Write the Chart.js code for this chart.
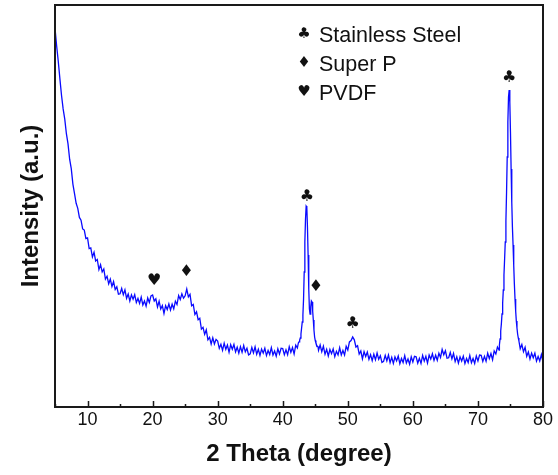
<!DOCTYPE html>
<html>
<head>
<meta charset="utf-8">
<script src="https://cdn.jsdelivr.net/npm/chart.js@4.4.1/dist/chart.umd.min.js"></script>
<style>
  html, body { margin: 0; padding: 0; background: #ffffff; }
  #wrap { width: 558px; height: 475px; }
</style>
</head>
<body>
<div id="wrap"><canvas id="c" width="558" height="475"></canvas></div>
<script>
// ---- Data (intensity in arbitrary units) ----
// Segment 1: 5.00° – 42.25°, step 0.25°
const seg1Start = 5.0, seg1Step = 0.25;
const seg1Intensity = [
  3790, 3612, 3458, 3284, 3118, 2981, 2878, 2733, 2631, 2478, 2383, 2229, 2134, 2037, 1986, 1896, 1868, 1781, 1769, 1684,
  1690, 1585, 1592, 1500, 1548, 1460, 1475, 1375, 1423, 1350, 1380, 1280, 1308, 1232, 1278, 1205, 1255, 1175, 1202, 1128,
  1132, 1185, 1122, 1172, 1087, 1130, 1060, 1122, 1078, 1123, 1044, 1085, 1035, 1099, 1020, 1060, 1008, 1090, 1045, 1111,
  1120, 1060, 1082, 1000, 1058, 980, 1015, 935, 1013, 975, 1030, 970, 1028, 982, 1058, 1025, 1115, 1075, 1132, 1088,
  1112, 1180, 1102, 1127, 1012, 1025, 925, 952, 873, 888, 779, 797, 727, 771, 672, 697, 630, 692, 630, 676,
  660, 587, 627, 567, 638, 577, 620, 547, 623, 577, 625, 552, 598, 539, 603, 547, 615, 552, 587, 520,
  532, 595, 542, 602, 527, 577, 515, 579, 538, 588, 514, 565, 525, 594, 520, 560, 508, 582, 530, 588,
  585, 522, 572, 522, 603, 547, 595, 530, 618, 590
];
// Stainless steel (111) peak with Super P shoulder: fine sampling
const peak1Theta = [42.4, 42.5, 42.6, 42.7, 42.8, 42.9, 43.0, 43.1, 43.2, 43.3, 43.4, 43.5, 43.6, 43.7, 43.8, 43.9,
  44.0, 44.1, 44.2, 44.3, 44.4, 44.5, 44.6, 44.7, 44.8, 44.9, 45.0, 45.1, 45.2, 45.3, 45.4];
const peak1Intensity = [640, 652, 668, 690, 730, 790, 850, 920, 1080, 1350, 1650, 1880, 2010, 2000, 1800, 1520,
  1180, 980, 930, 1000, 1060, 1050, 960, 870, 770, 700, 665, 640, 622, 606, 610];
// Segment 2: 45.50° – 73.25°, step 0.25°
const seg2Start = 45.5, seg2Step = 0.25;
const seg2Intensity = [
  567, 620, 552, 607, 527, 577, 510, 575, 533, 581, 504, 557, 520, 592, 520, 565, 520, 607, 570, 651,
  665, 700, 672, 600, 613, 530, 560, 480, 553, 505, 550, 477, 523, 464, 528, 472, 540, 477, 512, 445,
  457, 517, 462, 520, 444, 496, 435, 501, 461, 510, 434, 485, 445, 514, 440, 480, 428, 502, 450, 506,
  502, 438, 487, 436, 516, 460, 507, 439, 519, 479, 532, 466, 518, 467, 538, 495, 575, 522, 562, 488,
  492, 545, 482, 535, 454, 502, 438, 502, 460, 508, 434, 485, 445, 516, 443, 485, 435, 511, 461, 520,
  517, 455, 506, 457, 538, 485, 535, 473, 560, 530, 600, 570
];
// Stainless steel (220) peak: fine sampling
const peak2Theta = [73.3, 73.4, 73.5, 73.6, 73.7, 73.8, 73.9, 74.0, 74.1, 74.2, 74.3, 74.4, 74.5, 74.6, 74.7, 74.8,
  74.9, 75.0, 75.1, 75.2, 75.3, 75.4, 75.5, 75.6, 75.7, 75.8, 75.9, 76.0, 76.1, 76.2, 76.3];
const peak2Intensity = [620, 680, 760, 830, 930, 1040, 1170, 1320, 1480, 1650, 1860, 2150, 2500, 2850, 3100, 3170,
  3050, 2750, 2380, 2050, 1800, 1620, 1420, 1230, 1080, 960, 860, 790, 730, 690, 660];
// Segment 3: 76.50° – 80.00°, step 0.25°
const seg3Start = 76.5, seg3Step = 0.25;
const seg3Intensity = [582, 625, 552, 597, 507, 550, 480, 539, 493, 538, 459, 505, 460, 524, 448];

// Axis settings
const xMin = 5, xMax = 80;
const xTickLabels = [10, 20, 30, 40, 50, 60, 70, 80];
const xMinorTicks = [5, 15, 25, 35, 45, 55, 65, 75];
const yMin = 0, yMax = 4020;

// Peak markers: [2θ, intensity, symbol]
const markerTheta = [20.25, 25.2, 43.7, 45.1, 50.75, 74.8];
const markerIntensity = [1263, 1347, 2097, 1203, 830, 3287];
const markerSymbol = ['\u2665', '\u2666', '\u2663', '\u2666', '\u2663', '\u2663'];

// Legend
const legendSymbols = ['\u2663', '\u2666', '\u2665'];
const legendLabels = ['Stainless Steel', 'Super P', 'PVDF'];

// ---- Build points ----
function gridPoints(start, step, vals) {
  return vals.map((v, i) => ({ x: +(start + i * step).toFixed(2), y: v }));
}
function pairPoints(th, vals) {
  return th.map((t, i) => ({ x: t, y: vals[i] }));
}
const points = [].concat(
  gridPoints(seg1Start, seg1Step, seg1Intensity),
  pairPoints(peak1Theta, peak1Intensity),
  gridPoints(seg2Start, seg2Step, seg2Intensity),
  pairPoints(peak2Theta, peak2Intensity),
  gridPoints(seg3Start, seg3Step, seg3Intensity)
);

const framePlugin = {
  id: 'frame',
  afterDatasetsDraw(chart) {
    const { ctx, chartArea: a, scales } = chart;
    const xs = scales.x, ys = scales.y;
    ctx.save();
    // inward ticks on bottom axis
    ctx.strokeStyle = '#1a1a1a';
    ctx.lineWidth = 1.5;
    ctx.beginPath();
    xTickLabels.forEach(v => {
      const px = Math.round(xs.getPixelForValue(v)) + 0.5;
      ctx.moveTo(px, a.bottom); ctx.lineTo(px, a.bottom - 6);
    });
    xMinorTicks.forEach(v => {
      const px = Math.round(xs.getPixelForValue(v)) + 0.5;
      ctx.moveTo(px, a.bottom); ctx.lineTo(px, a.bottom - 3);
    });
    ctx.stroke();
    // frame
    ctx.lineWidth = 2;
    ctx.strokeRect(a.left, a.top, a.right - a.left, a.bottom - a.top);
    // peak markers
    ctx.fillStyle = '#111111';
    ctx.font = '16px "DejaVu Sans"';
    ctx.textAlign = 'center';
    ctx.textBaseline = 'middle';
    markerTheta.forEach((t, i) => {
      ctx.fillText(markerSymbol[i], xs.getPixelForValue(t), ys.getPixelForValue(markerIntensity[i]));
    });
    // legend
    const legY = [34, 63.5, 92];
    legendLabels.forEach((lab, i) => {
      ctx.font = '15px "DejaVu Sans"';
      ctx.textAlign = 'center';
      ctx.textBaseline = 'middle';
      ctx.fillText(legendSymbols[i], 304, legY[i]);
      ctx.font = '21.5px "Liberation Sans", Arial, sans-serif';
      ctx.textAlign = 'left';
      ctx.textBaseline = 'alphabetic';
      ctx.fillText(lab, 319, legY[i] + 7.7);
    });
    ctx.restore();
  }
};

new Chart(document.getElementById('c'), {
  type: 'line',
  data: {
    datasets: [{
      data: points,
      borderColor: 'rgb(10,10,255)',
      borderWidth: 1.3,
      pointRadius: 0,
      tension: 0,
      fill: false
    }]
  },
  options: {
    responsive: false,
    animation: false,
    devicePixelRatio: 1,
    layout: { padding: { left: 0, right: 15, top: 5, bottom: 0 } },
    plugins: { legend: { display: false }, tooltip: { enabled: false } },
    scales: {
      x: {
        type: 'linear',
        min: xMin, max: xMax,
        afterBuildTicks(scale) {
          scale.ticks = xTickLabels.map(v => ({ value: v }));
        },
        afterFit(scale) { scale.height = 68; },
        grid: { display: false, drawTicks: false },
        border: { display: false },
        ticks: {
          autoSkip: false, maxRotation: 0, padding: 2,
          color: '#111111',
          font: { family: '"Liberation Sans", Arial, sans-serif', size: 18 }
        },
        title: {
          display: true,
          text: '2 Theta (degree)',
          color: '#111111',
          font: { family: '"Liberation Sans", Arial, sans-serif', size: 24, weight: 'bold' },
          padding: { top: 0, bottom: 6 }
        }
      },
      y: {
        type: 'linear',
        min: yMin, max: yMax,
        afterFit(scale) { scale.width = 55; },
        grid: { display: false, drawTicks: false },
        border: { display: false },
        ticks: { display: false },
        title: {
          display: true,
          text: 'Intensity (a.u.)',
          color: '#111111',
          font: { family: '"Liberation Sans", Arial, sans-serif', size: 24, weight: 'bold' },
          padding: { top: 17, bottom: 0 }
        }
      }
    }
  },
  plugins: [framePlugin]
});
</script>
</body>
</html>
